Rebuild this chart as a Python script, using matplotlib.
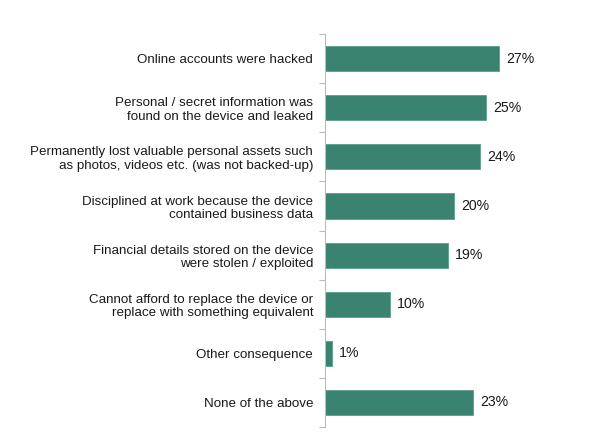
import matplotlib
matplotlib.use("Agg")
import matplotlib.pyplot as plt
from matplotlib.ticker import FixedLocator

categories = [
    "Online accounts were hacked",
    "Personal / secret information was\nfound on the device and leaked",
    "Permanently lost valuable personal assets such\nas photos, videos etc. (was not backed-up)",
    "Disciplined at work because the device\ncontained business data",
    "Financial details stored on the device\nwere stolen / exploited",
    "Cannot afford to replace the device or\nreplace with something equivalent",
    "Other consequence",
    "None of the above",
]
values = [27, 25, 24, 20, 19, 10, 1, 23]
value_labels = ["27%", "25%", "24%", "20%", "19%", "10%", "1%", "23%"]

plt.rcParams['font.family'] = ['Liberation Sans', 'DejaVu Sans']

fig = plt.figure(figsize=(5.9, 4.43), dpi=100)
ax = fig.add_axes([0.551, 0.036, 0.437, 0.887])

y = list(range(len(categories)))
ax.barh(y, values, height=0.51, color="#3a8370", edgecolor="#5a9e8c", linewidth=0.6)
ax.set_ylim(len(categories) - 0.5, -0.5)
ax.set_xlim(0, 40)

for yi, v, lab in zip(y, values, value_labels):
    ax.text(v + 1.1, yi, lab, va="center", ha="left", fontsize=10.2, color="#1a1a1a")

ax.set_yticks(y)
ax.set_yticklabels(categories, fontsize=9.6, color="#1a1a1a", linespacing=1.15)
ax.tick_params(axis="y", which="major", length=0, pad=8.6)
ax.yaxis.set_minor_locator(FixedLocator([i - 0.5 for i in range(len(categories) + 1)]))
ax.tick_params(axis="y", which="minor", length=4, color="#bbbbbb", width=0.8)
ax.set_xticks([])
for s in ["top", "right", "bottom"]:
    ax.spines[s].set_visible(False)
ax.spines["left"].set_color("#bbbbbb")
ax.spines["left"].set_linewidth(0.8)

fig.savefig("out.png", dpi=100, facecolor="white")
